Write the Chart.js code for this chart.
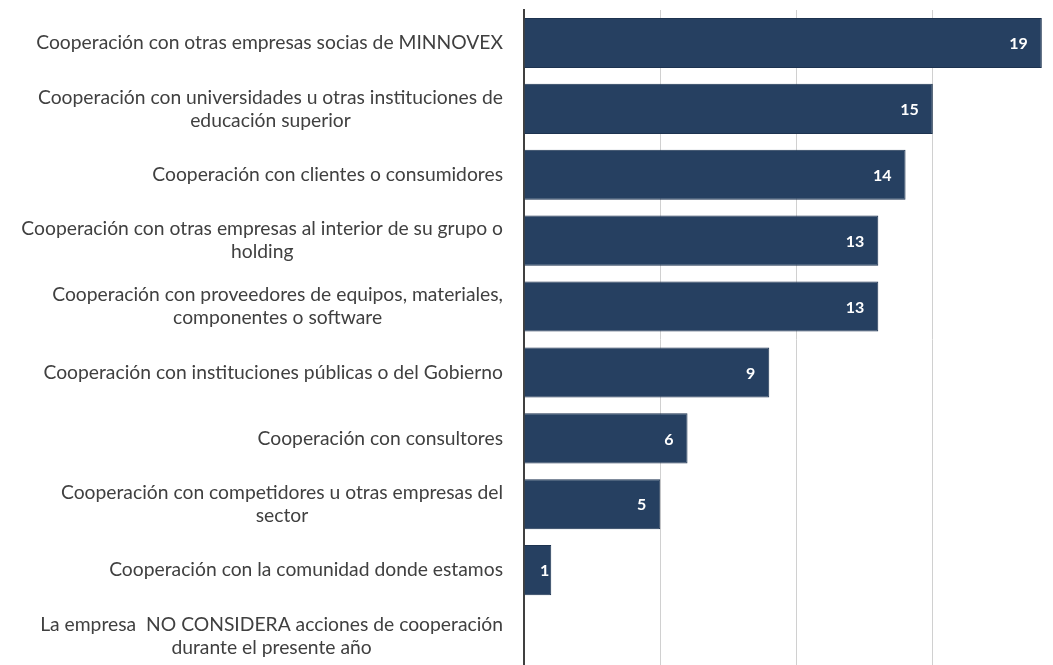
<!DOCTYPE html>
<html>
<head>
<meta charset="utf-8">
<script src="https://cdn.jsdelivr.net/npm/chart.js@4"></script>
<style>
  html, body { margin: 0; padding: 0; background: #fff; overflow: hidden; }
  #wrap { width: 1053px; height: 669px; position: relative; }
</style>
</head>
<body>
<div id="wrap"><canvas id="chart"></canvas></div>
<script>
// categories (multi-line labels as in the original)
const categories = [
  ['Cooperación con otras empresas socias de MINNOVEX'],
  ['Cooperación con universidades u otras instituciones de', 'educación superior'],
  ['Cooperación con clientes o consumidores'],
  ['Cooperación con otras empresas al interior de su grupo o', 'holding'],
  ['Cooperación con proveedores de equipos, materiales,', 'componentes o software'],
  ['Cooperación con instituciones públicas o del Gobierno'],
  ['Cooperación con consultores'],
  ['Cooperación con competidores u otras empresas del', 'sector'],
  ['Cooperación con la comunidad donde estamos'],
  ['La empresa  NO CONSIDERA acciones de cooperación', 'durante el presente año'],
];
const counts = [19, 15, 14, 13, 13, 9, 6, 5, 1, 0];

const LABEL_FONT = '19.3px Lato, "Open Sans", sans-serif';
const LINE_H = 23;

// category labels: block right-aligned to the axis, lines centred inside the block
const categoryLabels = {
  id: 'categoryLabels',
  afterDraw(chart) {
    const ctx = chart.ctx;
    const y = chart.scales.y;
    const right = y.right - 21;
    ctx.save();
    ctx.font = LABEL_FONT;
    ctx.fillStyle = '#404040';
    ctx.textAlign = 'center';
    ctx.textBaseline = 'middle';
    categories.forEach((lines, i) => {
      const w = Math.max(...lines.map((l) => ctx.measureText(l).width));
      const cx = right - w / 2;
      const cy = y.getPixelForTick(i);
      const top = cy - ((lines.length - 1) * LINE_H) / 2;
      lines.forEach((l, k) => ctx.fillText(l, cx, top + k * LINE_H));
    });
    ctx.restore();
  },
};

// draws the white value labels inside the bar ends
const valueLabels = {
  id: 'valueLabels',
  afterDatasetsDraw(chart) {
    const ctx = chart.ctx;
    const meta = chart.getDatasetMeta(0);
    ctx.save();
    ctx.font = 'bold 16px Lato, "Open Sans", sans-serif';
    ctx.fillStyle = '#ffffff';
    ctx.textAlign = 'right';
    ctx.textBaseline = 'middle';
    meta.data.forEach((bar, i) => {
      const v = counts[i];
      if (!v) return;
      const txt = String(v);
      const w = ctx.measureText(txt).width;
      // short bars: keep the label pushed towards the end
      const x = Math.min(bar.x - 2, Math.max(bar.x - 14, bar.base + w + 17));
      ctx.fillText(txt, x, bar.y + 1);
    });
    ctx.restore();
  },
};

new Chart(document.getElementById('chart'), {
  type: 'bar',
  data: {
    labels: categories,
    datasets: [{
      data: counts,
      backgroundColor: '#264061',
      borderColor: '#1d3350',
      borderWidth: 1,
      barPercentage: 0.76,
      categoryPercentage: 1.0,
    }],
  },
  options: {
    indexAxis: 'y',
    responsive: true,
    maintainAspectRatio: false,
    animation: false,
    layout: { padding: { top: 10, right: 3, left: 0, bottom: 0 } },
    plugins: {
      legend: { display: false },
      tooltip: { enabled: false },
    },
    scales: {
      x: {
        min: 0,
        max: 19.3,
        ticks: { display: false, stepSize: 5 },
        border: { display: false },
        grid: {
          drawTicks: false,
          color: (c) => (c.tick && c.tick.value > 0 && c.tick.value % 5 === 0 ? '#d0d0d0' : 'transparent'),
          lineWidth: 1,
        },
      },
      y: {
        ticks: { display: false },
        grid: { display: false, drawTicks: false },
        border: { display: true, color: '#404040', width: 2 },
        afterFit(scale) { scale.width = 524; },
      },
    },
  },
  plugins: [valueLabels, categoryLabels],
});
</script>
</body>
</html>
